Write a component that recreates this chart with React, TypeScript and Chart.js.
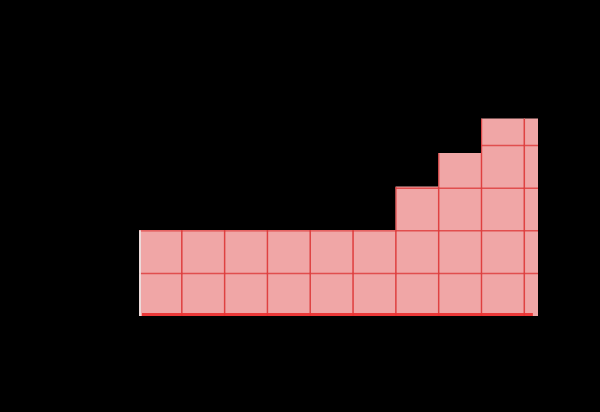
import React, { useEffect, useRef } from "react";
import { Chart, registerables } from "chart.js";

Chart.register(...registerables);

// Column positions (centre of each grid-square column) and heights in grid squares
const columns = [0.5, 1.5, 2.5, 3.5, 4.5, 5.5, 6.5, 7.5, 8.5, 9.5];
const heights = [2.01, 2.01, 2.01, 2.01, 2.01, 2.01, 3.03, 3.82, 4.63, 4.63];
const xGridLines = [1, 2, 3, 4, 5, 6, 7, 8, 9];
const yGridLines = [1, 2, 3, 4];

const PAPER = "rgb(240,166,166)";
const INK = "rgba(222,62,62,0.85)";

const paperGrid = {
  id: "paperGrid",
  afterDatasetsDraw(chart: any) {
    const { ctx, chartArea, scales } = chart;
    const xs = scales.x;
    const ys = scales.y;
    const bars = chart.getDatasetMeta(0).data;
    ctx.save();
    ctx.beginPath();
    ctx.rect(chartArea.left, chartArea.top, chartArea.right - chartArea.left, chartArea.bottom - chartArea.top + 4);
    ctx.clip();
    bars.forEach((bar: any) => {
      const { x, y, base, width } = bar.getProps(["x", "y", "base", "width"], true);
      ctx.save();
      ctx.beginPath();
      ctx.rect(x - width / 2 - 0.5, y, width + 1, base - y);
      ctx.clip();
      ctx.strokeStyle = INK;
      ctx.lineWidth = 1.5;
      yGridLines.forEach((v) => {
        const py = ys.getPixelForValue(v);
        ctx.beginPath();
        ctx.moveTo(chartArea.left, py);
        ctx.lineTo(chartArea.right, py);
        ctx.stroke();
      });
      xGridLines.forEach((v) => {
        const px = xs.getPixelForValue(v);
        ctx.beginPath();
        ctx.moveTo(px, chartArea.top);
        ctx.lineTo(px, chartArea.bottom);
        ctx.stroke();
      });
      ctx.restore();
    });
    // base line
    const by = ys.getPixelForValue(0);
    ctx.strokeStyle = "rgba(235,50,50,0.95)";
    ctx.lineWidth = 3;
    ctx.beginPath();
    ctx.moveTo(xs.getPixelForValue(0) + 3, by - 1.5);
    ctx.lineTo(xs.getPixelForValue(9.2), by - 1.5);
    ctx.stroke();
    // left paper edge
    ctx.strokeStyle = "rgba(235,225,225,0.9)";
    ctx.lineWidth = 2;
    const lx = xs.getPixelForValue(0) + 1;
    ctx.beginPath();
    ctx.moveTo(lx, ys.getPixelForValue(heights[0]));
    ctx.lineTo(lx, by);
    ctx.stroke();
    ctx.restore();
  },
};

export default function App() {
  const ref = useRef<HTMLCanvasElement | null>(null);
  useEffect(() => {
    if (!ref.current) return;
    const chart = new Chart(ref.current, {
      type: "bar",
      data: {
        datasets: [
          {
            data: columns.map((c, i) => ({ x: c, y: heights[i] })),
            backgroundColor: PAPER,
            borderColor: PAPER,
            borderWidth: 0,
            barPercentage: 1,
            categoryPercentage: 1,
          },
        ],
      },
      options: {
        responsive: false,
        animation: false,
        events: [],
        layout: { padding: { left: 139, right: 62, top: 103, bottom: 96 } },
        plugins: { legend: { display: false }, tooltip: { enabled: false } },
        scales: {
          x: { type: "linear", display: false, offset: false, min: 0, max: 9.32, grid: { offset: false } },
          y: { display: false, min: 0, max: 5 },
        },
      },
      plugins: [paperGrid],
    });
    return () => chart.destroy();
  }, []);
  return (
    <div style={{ position: "fixed", left: 0, top: 0, width: 600, height: 412, background: "#000" }}>
      <canvas ref={ref} width={600} height={412} style={{ display: "block" }} />
    </div>
  );
}
